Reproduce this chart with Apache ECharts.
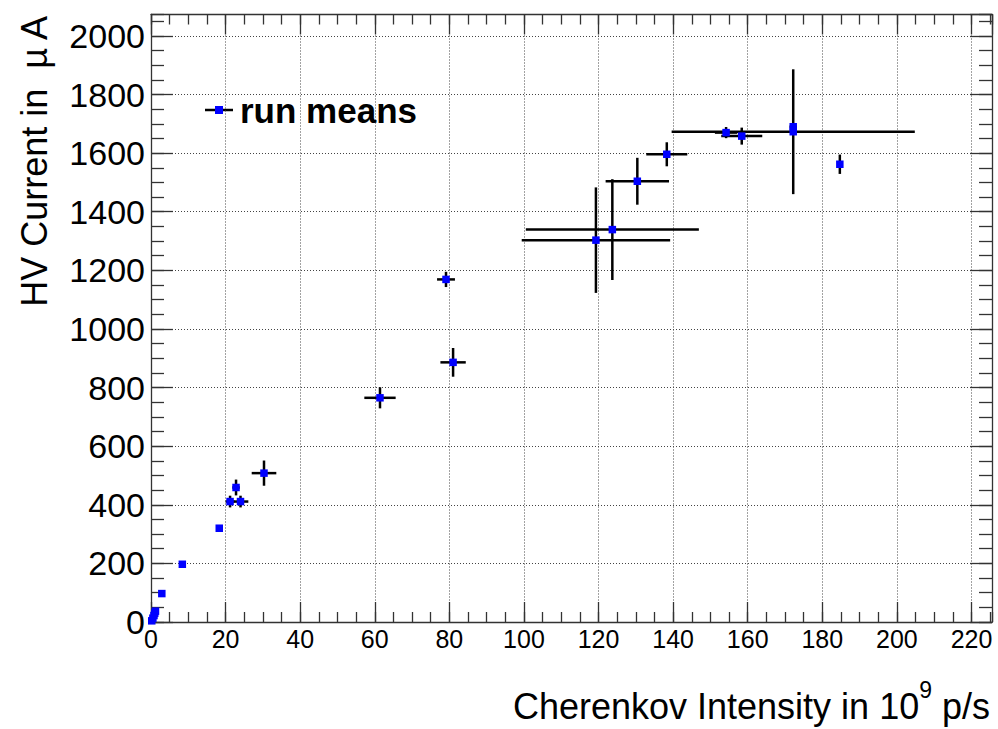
<!DOCTYPE html>
<html>
<head>
<meta charset="utf-8">
<title>HV Current vs Cherenkov Intensity</title>
<script src="https://cdn.jsdelivr.net/npm/echarts@6/dist/echarts.min.js"></script>
<style>
  html, body { margin: 0; padding: 0; background: #fff; }
  #chart { width: 998px; height: 729px; }
</style>
</head>
<body>
<div id="chart"></div>
<script>
// Run means: Cherenkov intensity (1e9 p/s) vs HV current (uA), with errors
const intensity = [0.2, 0.5, 0.8, 1.0, 1.2, 2.9, 8.4, 18.3, 21.2, 22.8, 24.0, 30.3,
                   61.4, 79.1, 81.0, 119.3, 123.7, 130.4, 138.3, 154.2, 158.4, 172.2, 172.2, 184.7];
const current   = [4, 13, 22, 30, 37, 97, 197, 320, 411, 459, 411, 508,
                   765, 1169, 886, 1303, 1339, 1504, 1596, 1670, 1658, 1690, 1673, 1562];
const intensityErr = [0, 0, 0, 0, 0, 0.2, 0.3, 0.4, 1.2, 1.0, 2.1, 3.3,
                      4.2, 2.4, 3.4, 19.9, 23.2, 8.5, 5.5, 3.0, 5.5, 1.0, 32.6, 0.5];
const currentErr   = [0, 0, 0, 0, 0, 3, 4, 5, 20, 27, 20, 43,
                      36, 26, 49, 180, 172, 80, 41, 19, 29, 12, 213, 33];

const xMin = 0, xMax = 225.5, xStep = 20, xMinorStep = 5;
const yMin = 0, yMax = 2073, yStep = 200, yMinorStep = 50;

const seriesName = 'run means';
const xTitle = 'Cherenkov Intensity in 10';
const xTitleSup = '9';
const xTitleTail = ' p/s';
const yTitle = 'HV Current in  \u00b5 A';

const FONT = 'Liberation Sans, Arial, Helvetica, sans-serif';
const FRAME = '#333';

const points = intensity.map((x, i) => [x, current[i], intensityErr[i], currentErr[i]]);

// plain integer tick labels, no thousands separator
const plain = v => String(Math.round(v));

function xAxisDef(position, step, tickLen, major) {
  return {
    type: 'value', position: position, min: xMin, max: xMax, interval: step,
    axisLine: { show: major, onZero: false, lineStyle: { color: FRAME, width: 1.3 } },
    axisTick: { show: true, inside: true, length: tickLen, lineStyle: { color: FRAME, width: 1.3 } },
    axisLabel: {
      show: major && position === 'bottom', showMaxLabel: false, margin: 4,
      fontSize: 25, fontFamily: FONT, color: '#000', formatter: plain
    },
    splitLine: {
      show: major && position === 'bottom',
      lineStyle: { color: '#444', width: 1, type: [1, 2] }
    }
  };
}

function yAxisDef(position, step, tickLen, major) {
  return {
    type: 'value', position: position, min: yMin, max: yMax, interval: step,
    axisLine: { show: major, onZero: false, lineStyle: { color: FRAME, width: 1.3 } },
    axisTick: { show: true, inside: true, length: tickLen, lineStyle: { color: FRAME, width: 1.3 } },
    axisLabel: {
      show: major && position === 'left', showMaxLabel: false, margin: 6,
      fontSize: 34, fontFamily: FONT, color: '#000', formatter: plain
    },
    splitLine: {
      show: major && position === 'left',
      lineStyle: { color: '#444', width: 1, type: [1, 2] }
    }
  };
}

const chart = echarts.init(document.getElementById('chart'), null, { renderer: 'svg' });

chart.setOption({
  backgroundColor: '#fff',
  animation: false,
  grid: { left: 151, right: 6, top: 14.5, bottom: 107, containLabel: false },
  xAxis: [
    xAxisDef('bottom', xStep, 20, true),
    xAxisDef('bottom', xMinorStep, 10, false),
    xAxisDef('top', xStep, 20, true),
    xAxisDef('top', xMinorStep, 10, false)
  ],
  yAxis: [
    yAxisDef('left', yStep, 22, true),
    yAxisDef('left', yMinorStep, 13, false),
    yAxisDef('right', yStep, 22, true),
    yAxisDef('right', yMinorStep, 13, false)
  ],
  legend: {
    data: [{ name: seriesName, icon: 'rect' }],
    left: 215, top: 92, padding: 0,
    itemWidth: 8, itemHeight: 8,
    selectedMode: false,
    textStyle: {
      fontSize: 35, fontWeight: 'bold', fontFamily: FONT, color: '#000',
      lineHeight: 36, padding: [0, 0, 0, 12]
    }
  },
  graphic: [
    // legend marker bar behind the square
    { type: 'line', z: 0, shape: { x1: 205, y1: 110, x2: 233, y2: 110 },
      style: { stroke: '#000', lineWidth: 2.5 } },
    // x axis title with superscript exponent
    { type: 'text', right: 8, top: 678,
      style: {
        text: '{a|' + xTitle + '}{s|' + xTitleSup + '}{a|' + xTitleTail + '}',
        fill: '#000',
        rich: {
          a: { fontSize: 36, fontFamily: FONT, lineHeight: 46, verticalAlign: 'bottom' },
          s: { fontSize: 23, fontFamily: FONT, lineHeight: 46, verticalAlign: 'top' }
        }
      } },
    // y axis title, rotated, ending at the top of the axis
    { type: 'text', x: 34, y: 16, rotation: Math.PI / 2,
      style: {
        text: yTitle, fontSize: 36, fontFamily: FONT, fill: '#000',
        align: 'right', verticalAlign: 'middle'
      } }
  ],
  series: [
    {
      name: 'errors',
      type: 'custom',
      xAxisIndex: 0, yAxisIndex: 0,
      data: points,
      z: 2,
      silent: true,
      renderItem: function (params, api) {
        const x = api.value(0), y = api.value(1);
        const ex = api.value(2), ey = api.value(3);
        const children = [];
        const st = { stroke: '#000', lineWidth: 2.5 };
        if (ex > 0) {
          const a = api.coord([x - ex, y]), b = api.coord([x + ex, y]);
          children.push({ type: 'line', shape: { x1: a[0], y1: a[1], x2: b[0], y2: b[1] }, style: st });
        }
        if (ey > 0) {
          const a = api.coord([x, y - ey]), b = api.coord([x, y + ey]);
          children.push({ type: 'line', shape: { x1: a[0], y1: a[1], x2: b[0], y2: b[1] }, style: st });
        }
        return { type: 'group', children: children };
      }
    },
    {
      name: seriesName,
      type: 'scatter',
      xAxisIndex: 0, yAxisIndex: 0,
      data: points.map(p => [p[0], p[1]]),
      symbol: 'rect',
      symbolSize: 7.5,
      clip: false,
      z: 3,
      itemStyle: { color: '#0000ff', opacity: 1 }
    }
  ]
});
</script>
</body>
</html>
